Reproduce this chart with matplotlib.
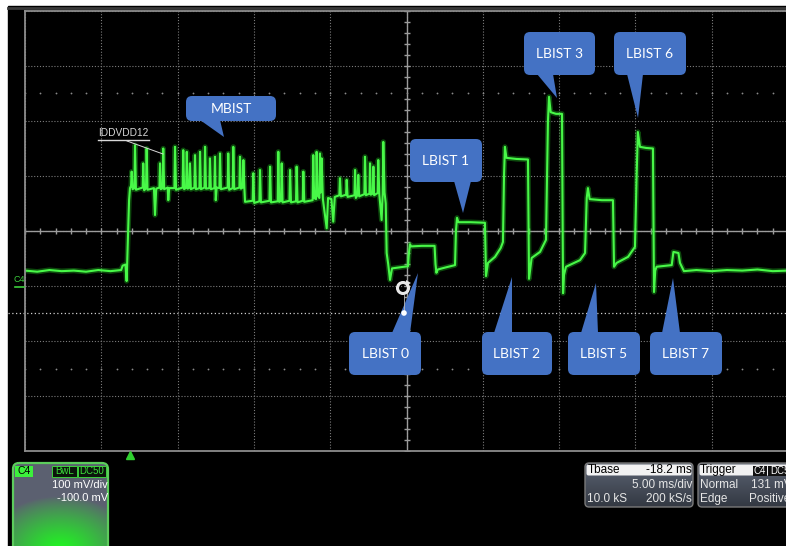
import numpy as np
import matplotlib.pyplot as plt
from matplotlib.patches import Circle, FancyBboxPatch, Polygon, Rectangle

# scope settings (on-screen readout)
MS_PER_DIV = 5.0
MV_PER_DIV = 100.0
N_XDIV = 10
N_YDIV = 8
CENTER_MV = 100.0

# IDDVDD12 trace: ms from left edge of the grid, mV
trace_ms = [
    0.00, 0.80, 1.60, 2.40, 3.20, 4.00, 4.80, 5.60, 6.30, 6.40, 6.58, 6.66, 6.74, 6.82, 6.88,
    # MBIST, first half
    6.95, 6.99, 7.05, 7.17, 7.21, 7.27, 7.71, 7.75, 7.81, 7.93, 7.97, 8.03, 8.45, 8.52, 8.60,
    8.81, 8.85, 8.90, 9.02, 9.06, 9.12, 9.35, 9.39, 9.45, 9.79, 9.83, 9.90, 10.33, 10.37, 10.43,
    10.56, 10.60, 10.66, 10.77, 10.81, 10.87, 11.10, 11.14, 11.20, 11.43, 11.47, 11.53,
    11.76, 11.80, 11.86, 12.08, 12.12, 12.18, 12.41, 12.45, 12.50, 12.56, 12.74, 12.78, 12.84,
    13.28, 13.32, 13.38, 13.61, 13.65, 13.71, 14.05, 14.09, 14.15, 14.27, 14.31, 14.38, 14.42,
    # MBIST, second half
    14.92, 14.96, 15.02, 15.36, 15.40, 15.46, 16.02, 16.06, 16.12, 16.56, 16.60, 16.66,
    16.78, 16.82, 16.88, 17.33, 17.37, 17.43, 17.76, 17.80, 17.86, 18.20, 18.24, 18.30,
    18.85, 18.89, 18.95, 19.07, 19.11, 19.17, 19.29, 19.33, 19.38, 19.44, 19.52, 19.77, 19.86,
    20.08, 20.20, 20.30, 20.60, 20.64, 20.70, 21.04, 21.08, 21.14, 21.59, 21.63, 21.68,
    21.80, 21.84, 21.90, 22.24, 22.28, 22.34, 22.57, 22.61, 22.66, 22.79, 22.83, 22.88,
    23.11, 23.15, 23.22, 23.37, 23.44, 23.48, 23.56, 23.64, 23.70, 23.80, 23.92, 24.05,
    # LBIST steps
    24.60, 25.10, 25.16, 25.23, 25.30, 26.00, 26.84, 26.90, 26.96, 27.05, 27.60, 28.18,
    28.24, 28.31, 28.40, 29.20, 30.14, 30.21, 30.34, 30.80, 31.17, 31.32,
    31.39, 31.45, 31.55, 32.20, 32.96, 33.03, 33.20, 33.75, 34.14,
    34.27, 34.34, 34.45, 34.80, 35.19, 35.26, 35.32, 35.45, 36.37, 36.70,
    36.81, 36.89, 37.00, 37.80, 38.53, 38.60, 38.77, 39.52, 39.97,
    40.08, 40.16, 40.30, 40.70, 41.15, 41.22, 41.30, 41.39, 42.38, 42.49, 42.82, 42.92, 43.18,
    44.00, 45.00, 46.00, 47.00, 48.00, 49.00, 50.00,
]
trace_mv = [
    28, 26, 29, 27, 28, 26, 29, 27, 29, 37, 39, 9, 84, 156, 178,
    182, 208, 176, 178, 256, 175, 179, 223, 174, 178, 250, 175, 178, 129, 177,
    179, 223, 176, 178, 250, 176, 179, 156, 178, 178, 253, 175, 179, 247, 176,
    179, 244, 177, 179, 223, 176, 179, 238, 176, 178, 244, 176,
    179, 253, 177, 178, 232, 176, 178, 235, 156, 179, 178, 241, 176,
    179, 241, 175, 178, 253, 176, 179, 235, 177, 179, 229, 176, 153,
    155, 205, 151, 154, 211, 152, 155, 217, 152, 154, 244, 153,
    155, 223, 152, 155, 211, 152, 154, 217, 152, 155, 208, 153,
    156, 238, 160, 158, 244, 165, 160, 241, 170, 232, 158, 105, 160,
    158, 117, 162, 165, 196, 163, 166, 193, 162, 165, 211, 160,
    166, 202, 163, 167, 235, 165, 168, 223, 166, 168, 217, 165,
    169, 229, 166, 120, 168, 262, 170, 150, 60, 40, 11, 32,
    34, 36, 60, 76, 72, 73, 73, 40, 24, 30, 34, 38,
    100, 124, 116, 116, 115, 18, 42, 53, 69, 80,
    200, 253, 233, 231, 230, 13, 51, 62, 84,
    300, 344, 316, 313, 313, -13, 20, 35, 47, 60,
    160, 178, 158, 156, 156, 35, 42, 53, 71,
    200, 280, 253, 251, 250, -11, 28, 35, 38, 62, 60, 42, 27,
    29, 27, 29, 28, 30, 27, 28,
]

callout_labels = ["MBIST", "LBIST 0", "LBIST 1", "LBIST 2", "LBIST 3", "LBIST 5", "LBIST 6", "LBIST 7"]

# callout geometry in screen pixels: box (left, top, right, bottom), pointer base (x0, x1), tip
CALLOUT_LAYOUT = {
    "MBIST": ((186, 96, 276, 121), (200, 220), (224, 137)),
    "LBIST 0": ((349, 332, 421, 375), (392, 410), (418, 273)),
    "LBIST 1": ((410, 139, 482, 182), (454, 471), (463, 213)),
    "LBIST 2": ((482, 332, 552, 375), (494, 512), (512, 277)),
    "LBIST 3": ((524, 32, 595, 75), (537, 553), (557, 98)),
    "LBIST 5": ((568, 332, 640, 375), (581, 598), (596, 283)),
    "LBIST 6": ((614, 32, 686, 75), (627, 643), (638, 118)),
    "LBIST 7": ((650, 332, 722, 375), (662, 680), (673, 278)),
}

W, H = 786, 546
CALLOUT_BLUE = "#4472C4"
GREEN = "#48f848"
UI_FONT = "Liberation Sans"


def px_axes(fig, zorder):
    a = fig.add_axes([0, 0, 1, 1], zorder=zorder)
    a.set_xlim(0, W)
    a.set_ylim(H, 0)
    a.axis("off")
    a.patch.set_alpha(0)
    return a


def gradient_box(a, x0, y0, x1, y1, img, ec, lw, r=5):
    box = FancyBboxPatch((x0, y0), x1 - x0, y1 - y0, boxstyle=f"round,pad=0,rounding_size={r}",
                         fc="none", ec=ec, lw=lw, zorder=3)
    a.add_patch(box)
    im = a.imshow(img, extent=(x0, x1, y1, y0), origin="upper", aspect="auto", zorder=2,
                  interpolation="bilinear")
    im.set_clip_path(box)
    return box


def draw_callout(a, text, box, base, tip):
    x0, y0, x1, y1 = box
    a.add_patch(FancyBboxPatch((x0, y0), x1 - x0, y1 - y0, boxstyle="round,pad=0,rounding_size=6",
                               fc=CALLOUT_BLUE, ec="none", zorder=5))
    base_y = y1 - 1 if tip[1] > y1 else y0 + 1
    a.add_patch(Polygon([(base[0], base_y), (base[1], base_y), tip], closed=True,
                        fc=CALLOUT_BLUE, ec="none", zorder=5))
    a.text((x0 + x1) / 2, (y0 + y1) / 2 + 0.5, text, color="white", fontsize=10, family="Lato",
           ha="center", va="center", zorder=6)


fig = plt.figure(figsize=(W / 100, H / 100), dpi=100, facecolor="white")

# black screen behind everything
bg = px_axes(fig, 0)
bg.add_patch(Rectangle((8, 6), W, H, color="black"))
bg.plot([8, W], [7.5, 7.5], color="#3a3a3a", lw=2)
# horizontal cursor line across the whole screen
bg.plot([8, W], [313, 313], color="#cfcfcf", lw=0.9, ls=(0, (1, 2)))

# graticule + trace
ax = fig.add_axes([25 / W, 1 - 451 / H, 763 / W, 440 / H], zorder=1)
ax.set_facecolor("none")
x_max = MS_PER_DIV * N_XDIV
y_min = CENTER_MV - MV_PER_DIV * N_YDIV / 2
y_max = CENTER_MV + MV_PER_DIV * N_YDIV / 2
ax.set_xticks(np.arange(0, x_max + 1, MS_PER_DIV))
ax.set_yticks(np.arange(y_min, y_max + 1, MV_PER_DIV))
ax.tick_params(length=0, labelbottom=False, labelleft=False)
ax.grid(True, color="#7c7c7c", lw=0.8, ls=(0, (1, 1.6)))
for s in ax.spines.values():
    s.set_color("#8c8c8c")
    s.set_linewidth(1.3)

mid_t = x_max / 2
ax.axhline(CENTER_MV, color="#9c9c9c", lw=1.0)
ax.axvline(mid_t, color="#9c9c9c", lw=1.0)
minor_t = np.arange(0, x_max + 0.01, MS_PER_DIV / 5)
minor_v = np.arange(y_min, y_max + 0.01, MV_PER_DIV / 5)
ax.plot(minor_t, np.full_like(minor_t, CENTER_MV), ls="none", marker="|", ms=5, mew=1, color="#9c9c9c")
ax.plot(np.full_like(minor_v, mid_t), minor_v, ls="none", marker="_", ms=5, mew=1, color="#9c9c9c")
for row in (CENTER_MV + 2.5 * MV_PER_DIV, CENTER_MV - 2.5 * MV_PER_DIV):
    ax.plot(minor_t, np.full_like(minor_t, row), ls="none", marker="o", ms=1.3, mew=0, color="#8a8a8a")

ax.plot(trace_ms, trace_mv, color="#24d024", lw=3.8, alpha=0.35, solid_joinstyle="round")
ax.plot(trace_ms, trace_mv, color=GREEN, lw=1.5, solid_joinstyle="round")
ax.set_xlim(0, x_max)
ax.set_ylim(y_min, y_max)

# annotations and readouts on top
ov = px_axes(fig, 3)

ov.text(98, 133, "IDDVDD12", color="#d8d8d8", fontsize=7.3, family=UI_FONT, va="center")
ov.plot([98, 149], [140, 140], color="#d8d8d8", lw=1)
ov.plot([127, 163], [141, 154], color="#d8d8d8", lw=0.7)

ov.text(13, 279, "C4", color="#3ccf3c", fontsize=6.5, family=UI_FONT, va="center")
ov.plot([15, 24], [287, 287], color="#3ccf3c", lw=1.2)
ov.plot([130], [455], marker="^", ms=6, color="#2fd02f", ls="none")

# selection handle left over from the slide editor
ov.add_patch(Circle((403, 288), 5.5, fill=False, ec="#e8e8e8", lw=2.2, zorder=7))
ov.add_patch(Polygon([(406, 280), (411, 283), (406, 286)], fc="#e8e8e8", ec="none", zorder=7))
ov.plot([404, 404], [295, 311], color="#bbbbbb", lw=0.6, zorder=7)
ov.add_patch(Circle((404, 313), 2.8, fc="white", ec="none", zorder=7))

for label in callout_labels:
    box, base, tip = CALLOUT_LAYOUT[label]
    draw_callout(ov, label, box, base, tip)

# channel readout box with green glow
yy, xx = np.mgrid[0:100, 0:100] / 99.0
glow = np.clip(1 - np.hypot((xx - 0.5) * 1.25, (yy - 0.9) * 1.8), 0, 1) ** 0.8
grey = np.array([0.36, 0.38, 0.44])
green = np.array([0.12, 0.98, 0.12])
c4_img = grey[None, None, :] * (1 - glow[..., None]) + green[None, None, :] * glow[..., None]
gradient_box(ov, 13, 463, 108, 560, c4_img, "#5ccc5c", 1.6, r=6)
ov.add_patch(Rectangle((15, 466), 18, 11, fc="#3cf03c", ec="none", zorder=4))
ov.text(24, 471.5, "C4", color="black", fontsize=7.5, family=UI_FONT, ha="center", va="center", zorder=5)
for x0, x1, t in ((52, 77, "BwL"), (78, 106, "DC50")):
    ov.add_patch(Rectangle((x0, 466), x1 - x0, 11, fc="#0b150b", ec="#3cd03c", lw=0.7, zorder=4))
    ov.text((x0 + x1) / 2, 471.5, t, color="#3ce03c", fontsize=7, family=UI_FONT,
            ha="center", va="center", zorder=5)
ov.text(108, 485, "100 mV/div", color="white", fontsize=8, family=UI_FONT, ha="right", va="center", zorder=5)
ov.text(108, 498, "-100.0 mV", color="white", fontsize=8, family=UI_FONT, ha="right", va="center", zorder=5)

# timebase / trigger readouts
body = np.linspace(0, 1, 60)[:, None, None]
top_c = np.array([0.36, 0.39, 0.45])
bot_c = np.array([0.20, 0.22, 0.26])
body_img = np.repeat(top_c * (1 - body) + bot_c * body, 2, axis=1)
for x0, x1 in ((585, 693), (698, 810)):
    gradient_box(ov, x0, 463, x1, 507, body_img, "#7a7a7a", 1.0, r=4)
    ov.add_patch(FancyBboxPatch((x0 + 1.5, 464.5), x1 - x0 - 3, 11, boxstyle="round,pad=0,rounding_size=2",
                                fc="#f2f2f2", ec="none", zorder=4))

ui = dict(fontsize=8.5, family=UI_FONT, va="center", zorder=5)
ov.text(588, 470, "Tbase", color="black", ha="left", **ui)
ov.text(692, 470, "-18.2 ms", color="black", ha="right", **ui)
ov.text(692, 485, "5.00 ms/div", color="#e6e6e6", ha="right", **ui)
ov.text(587, 499, "10.0 kS", color="#e6e6e6", ha="left", **ui)
ov.text(692, 499, "200 kS/s", color="#e6e6e6", ha="right", **ui)

# the trigger panel runs off the right edge of the screenshot
ov.text(700, 470, "Trigger", color="black", ha="left", **ui)
ov.add_patch(Rectangle((753, 465.5), 14, 10, fc="#111111", ec="none", zorder=5))
ov.text(760, 470.5, "C4", color="white", fontsize=7, family=UI_FONT, ha="center", va="center", zorder=6)
ov.add_patch(Rectangle((768, 465.5), 24, 10, fc="#111111", ec="none", zorder=5))
ov.text(770, 470.5, "DC50", color="white", fontsize=7, family=UI_FONT, ha="left", va="center", zorder=6)
ov.text(700, 485, "Normal", color="#e6e6e6", ha="left", **ui)
ov.text(751, 485, "131 mV", color="#e6e6e6", ha="left", **ui)
ov.text(700, 499, "Edge", color="#e6e6e6", ha="left", **ui)
ov.text(749, 499, "Positive", color="#e6e6e6", ha="left", **ui)

for a in (bg, ov):
    a.set_xlim(0, W)
    a.set_ylim(H, 0)

fig.savefig("out.png", dpi=100, facecolor=fig.get_facecolor())
